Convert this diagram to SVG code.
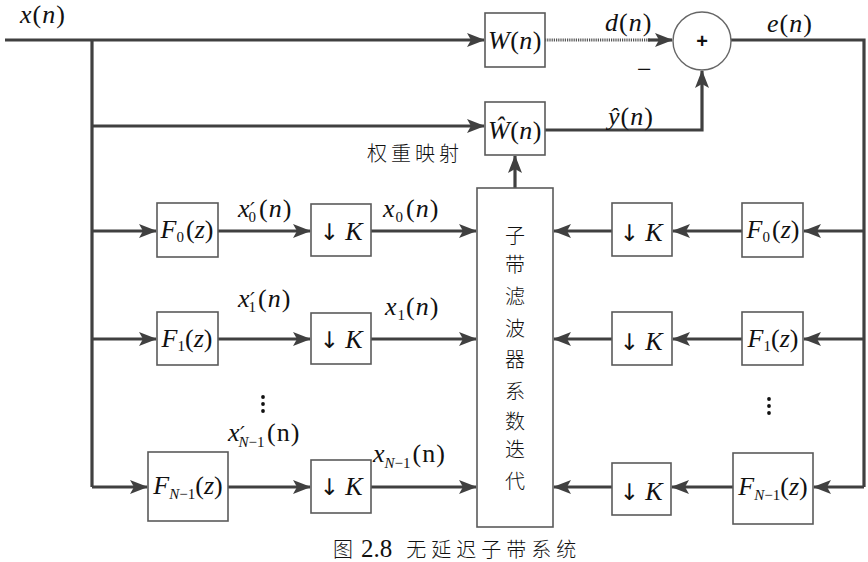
<svg xmlns="http://www.w3.org/2000/svg" width="868" height="562" viewBox="0 0 868 562">
<defs>
<marker id="ah" markerUnits="userSpaceOnUse" markerWidth="18" markerHeight="14" refX="17" refY="7" orient="auto">
<path d="M0,0 L18,7 L0,14 L4,7 z" fill="#404040"/>
</marker>
<style>
.w{stroke:#404040;stroke-width:3.2;fill:none}
.box{fill:#fff;stroke:#5a5a5a;stroke-width:1.6}
.m{font-family:"Liberation Serif","Times New Roman",serif;fill:#111;font-size:26px}
.i{font-style:italic}
.s{font-size:15px}
.pr{font-family:"DejaVu Serif",serif;font-style:italic;font-size:21px}
.cn{font-family:"Noto Sans CJK SC","Noto Sans CJK JP",sans-serif;fill:#111;font-size:20px;font-weight:300}
.ar{font-family:"DejaVu Sans",sans-serif;font-size:23px}
.dot{fill:#111}
</style>
</defs>
<rect width="868" height="562" fill="#fff"/>
<g id="connectors">
<path class="w" d="M5,40 H484" marker-end="url(#ah)"/>
<path class="w" d="M92,40 V487"/>
<path class="w" d="M92,126 H484" marker-end="url(#ah)"/>
<path class="w" d="M92,231 H156" marker-end="url(#ah)"/>
<path class="w" d="M218,231 H310" marker-end="url(#ah)"/>
<path class="w" d="M371,231 H476" marker-end="url(#ah)"/>
<path class="w" d="M92,339 H156" marker-end="url(#ah)"/>
<path class="w" d="M218,339 H310" marker-end="url(#ah)"/>
<path class="w" d="M371,339 H476" marker-end="url(#ah)"/>
<path class="w" d="M92,487 H147" marker-end="url(#ah)"/>
<path class="w" d="M228,487 H310" marker-end="url(#ah)"/>
<path class="w" d="M371,487 H476" marker-end="url(#ah)"/>
<path d="M545,40 H650" stroke="#555" stroke-width="3" stroke-dasharray="1.2,1" fill="none"/>
<path class="w" d="M648,40 H672" marker-end="url(#ah)"/>
<path class="w" d="M545,130 H702 V71" marker-end="url(#ah)"/>
<path class="w" d="M731,40 H864 V487"/>
<path class="w" d="M515,188 V156" marker-end="url(#ah)"/>
<path class="w" d="M864,231 H804" marker-end="url(#ah)"/>
<path class="w" d="M742,231 H673" marker-end="url(#ah)"/>
<path class="w" d="M612,231 H554" marker-end="url(#ah)"/>
<path class="w" d="M864,339 H804" marker-end="url(#ah)"/>
<path class="w" d="M742,339 H673" marker-end="url(#ah)"/>
<path class="w" d="M612,339 H554" marker-end="url(#ah)"/>
<path class="w" d="M864,487 H814" marker-end="url(#ah)"/>
<path class="w" d="M733,487 H672" marker-end="url(#ah)"/>
<path class="w" d="M612,487 H554" marker-end="url(#ah)"/>
</g>
<g id="labels">
<text class="m" x="20" y="23" font-size="24" letter-spacing="1"><tspan class="i">x</tspan>(<tspan class="i">n</tspan>)</text>
<text class="m" x="605" y="31" letter-spacing="1"><tspan class="i">d</tspan>(<tspan class="i">n</tspan>)</text>
<text class="m" x="637" y="78" font-size="18">−</text>
<text class="m" x="608" y="125" letter-spacing="1"><tspan class="i">ŷ</tspan>(<tspan class="i">n</tspan>)</text>
<text class="m" x="767" y="32" letter-spacing="1"><tspan class="i">e</tspan>(<tspan class="i">n</tspan>)</text>
<text class="cn" x="367" y="161" font-size="21" letter-spacing="4">权重映射</text>
<text class="m" x="238" y="217"><tspan class="i">x</tspan><tspan class="s" dx="-1" dy="5">0</tspan><tspan class="pr" x="250" y="217">′</tspan><tspan x="259" y="217" letter-spacing="1">(<tspan class="i">n</tspan>)</tspan></text>
<text class="m" x="383" y="217" letter-spacing="1"><tspan class="i">x</tspan><tspan class="s" dy="5">0</tspan><tspan dx="2" dy="-5">(</tspan><tspan class="i">n</tspan>)</text>
<text class="m" x="238" y="307"><tspan class="i">x</tspan><tspan class="s" dx="-1" dy="5">1</tspan><tspan class="pr" x="250" y="307">′</tspan><tspan x="258" y="307" letter-spacing="1">(<tspan class="i">n</tspan>)</tspan></text>
<text class="m" x="385" y="315" letter-spacing="1"><tspan class="i">x</tspan><tspan class="s" dy="5">1</tspan><tspan dy="-5">(</tspan><tspan class="i">n</tspan>)</text>
<text class="m" x="228" y="441"><tspan class="i">x</tspan><tspan class="s" dx="-1" dy="6"><tspan class="i">N</tspan>−1</tspan><tspan class="pr" x="240" y="441">′</tspan><tspan x="267" y="441" letter-spacing="1">(n)</tspan></text>
<text class="m" x="373" y="462"><tspan class="i">x</tspan><tspan class="s" dy="6"><tspan class="i">N</tspan>−1</tspan><tspan dx="2" dy="-6" letter-spacing="1">(n)</tspan></text>
<circle class="dot" cx="263" cy="397" r="1.9"/>
<circle class="dot" cx="263" cy="404" r="1.9"/>
<circle class="dot" cx="263" cy="411" r="1.9"/>
<circle class="dot" cx="769" cy="399" r="1.9"/>
<circle class="dot" cx="769" cy="406" r="1.9"/>
<circle class="dot" cx="769" cy="413" r="1.9"/>
<text class="cn" x="333" y="557" font-size="24"><tspan>图</tspan><tspan font-family="Liberation Serif,serif" font-size="25" dx="8">2.8</tspan><tspan dx="14" letter-spacing="5">无延迟子带系统</tspan></text>
</g>
<g id="W">
<rect class="box" x="485" y="13" width="60" height="54"/>
<text class="m" x="515" y="49" text-anchor="middle" font-size="25" letter-spacing="0.5"><tspan class="i">W</tspan>(<tspan class="i">n</tspan>)</text>
</g>
<g id="What">
<rect class="box" x="485" y="102" width="60" height="53"/>
<text class="m" x="515" y="139" text-anchor="middle" font-size="25" letter-spacing="0.5"><tspan class="i">Ŵ</tspan>(<tspan class="i">n</tspan>)</text>
</g>
<g id="sum">
<circle cx="702" cy="41" r="29" fill="#fff" stroke="#666" stroke-width="1.4"/>
<text x="702" y="48" text-anchor="middle" font-family="Liberation Sans,Arial,sans-serif" font-size="20" font-weight="bold" fill="#111">+</text>
</g>
<g id="F0L">
<rect class="box" x="157" y="203" width="61" height="54"/>
<text class="m" x="187" y="238" text-anchor="middle" font-size="23"><tspan class="i">F</tspan><tspan class="s" font-size="13" dy="4">0</tspan><tspan dx="2" dy="-4">(</tspan><tspan class="i">z</tspan>)</text>
</g>
<g id="D0L">
<rect class="box" x="311" y="204" width="60" height="52"/>
<text class="m" x="341" y="240" text-anchor="middle"><tspan class="ar">↓</tspan> <tspan class="i">K</tspan></text>
</g>
<g id="F1L">
<rect class="box" x="157" y="312" width="61" height="53"/>
<text class="m" x="187" y="347" text-anchor="middle" font-size="23"><tspan class="i">F</tspan><tspan class="s" font-size="13" dy="4">1</tspan><tspan dy="-4">(</tspan><tspan class="i">z</tspan>)</text>
</g>
<g id="D1L">
<rect class="box" x="311" y="313" width="60" height="51"/>
<text class="m" x="341" y="348" text-anchor="middle"><tspan class="ar">↓</tspan> <tspan class="i">K</tspan></text>
</g>
<g id="FNL">
<rect class="box" x="148" y="452" width="80" height="69"/>
<text class="m" x="188" y="494" text-anchor="middle" font-size="23"><tspan class="i">F</tspan><tspan class="s" font-size="13" dy="5"><tspan class="i">N</tspan>−1</tspan><tspan dy="-5">(</tspan><tspan class="i">z</tspan>)</text>
</g>
<g id="DNL">
<rect class="box" x="311" y="460" width="60" height="53"/>
<text class="m" x="341" y="495" text-anchor="middle"><tspan class="ar">↓</tspan> <tspan class="i">K</tspan></text>
</g>
<g id="iter">
<rect class="box" x="477" y="188" width="76" height="339"/>
<text class="cn" x="515" font-size="22" text-anchor="middle"><tspan x="515" y="243">子</tspan><tspan x="515" y="272">带</tspan><tspan x="515" y="304">滤</tspan><tspan x="515" y="336">波</tspan><tspan x="515" y="367">器</tspan><tspan x="515" y="399">系</tspan><tspan x="515" y="429">数</tspan><tspan x="515" y="457">迭</tspan><tspan x="515" y="489">代</tspan></text>
</g>
<g id="D0R">
<rect class="box" x="612" y="203" width="60" height="53"/>
<text class="m" x="641" y="241" text-anchor="middle" font-size="29"><tspan class="ar" font-size="27">↓</tspan> <tspan class="i">K</tspan></text>
</g>
<g id="F0R">
<rect class="box" x="742" y="203" width="61" height="54"/>
<text class="m" x="773" y="238" text-anchor="middle" font-size="23"><tspan class="i">F</tspan><tspan class="s" font-size="13" dy="4">0</tspan><tspan dx="2" dy="-4">(</tspan><tspan class="i">z</tspan>)</text>
</g>
<g id="D1R">
<rect class="box" x="612" y="312" width="60" height="53"/>
<text class="m" x="641" y="350" text-anchor="middle" font-size="29"><tspan class="ar" font-size="27">↓</tspan> <tspan class="i">K</tspan></text>
</g>
<g id="F1R">
<rect class="box" x="742" y="312" width="61" height="53"/>
<text class="m" x="773" y="347" text-anchor="middle" font-size="23"><tspan class="i">F</tspan><tspan class="s" font-size="13" dy="4">1</tspan><tspan dy="-4">(</tspan><tspan class="i">z</tspan>)</text>
</g>
<g id="DNR">
<rect class="box" x="612" y="463" width="59" height="52"/>
<text class="m" x="641" y="500" text-anchor="middle" font-size="29"><tspan class="ar" font-size="27">↓</tspan> <tspan class="i">K</tspan></text>
</g>
<g id="FNR">
<rect class="box" x="733" y="453" width="80" height="71"/>
<text class="m" x="773" y="495" text-anchor="middle" font-size="23"><tspan class="i">F</tspan><tspan class="s" font-size="13" dy="5"><tspan class="i">N</tspan>−1</tspan><tspan dy="-5">(</tspan><tspan class="i">z</tspan>)</text>
</g>
</svg>
